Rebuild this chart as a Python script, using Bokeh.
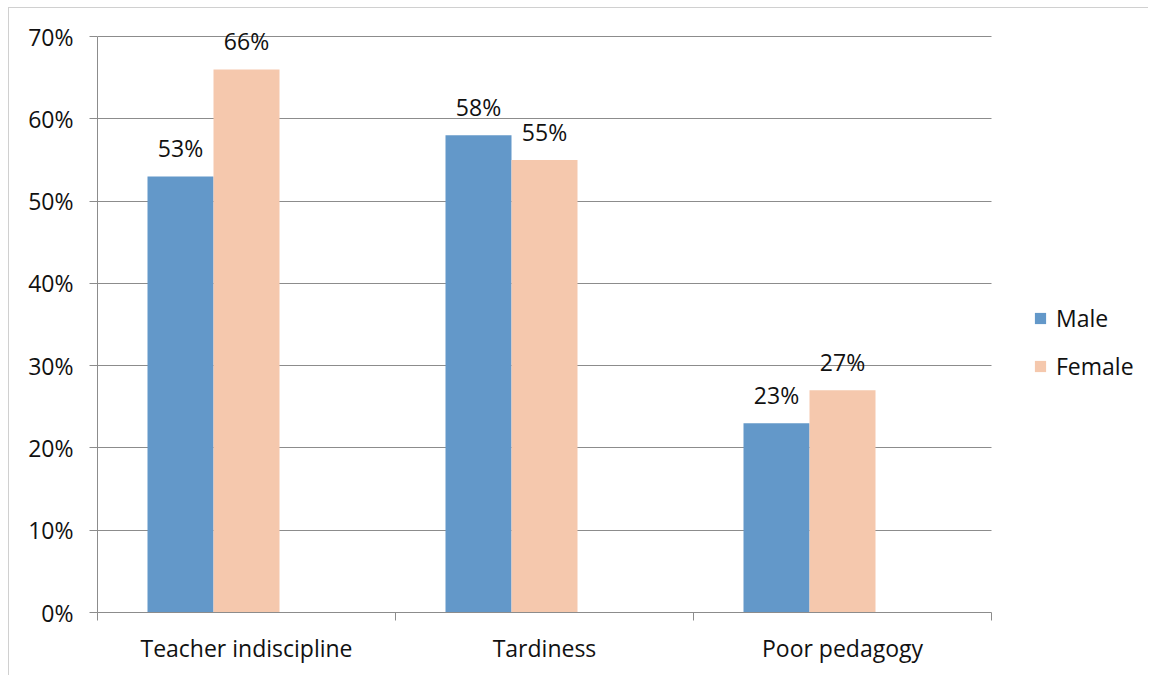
from bokeh.plotting import figure
from bokeh.models import (ColumnDataSource, FixedTicker, NumeralTickFormatter,
                          Legend, LegendItem, Range1d, LabelSet)
from bokeh.core.properties import value
from bokeh.embed import file_html
from bokeh.resources import INLINE

categories = ["Teacher indiscipline", "Tardiness", "Poor pedagogy"]
male = [0.53, 0.58, 0.23]
female = [0.66, 0.55, 0.27]
y_ticks = [0, 0.1, 0.2, 0.3, 0.4, 0.5, 0.6, 0.7]

FONT = "Open Sans"
FS = "23px"
MALE_C = "#6398C9"
FEMALE_C = "#F5C8AD"
GRID_C = "#8C8C8C"
TXT_C = "#111111"

n = len(categories)
y_max = y_ticks[-1]
bw = 66 / 298  # bar width as fraction of a category slot
centers = [i + 0.5 for i in range(n)]
male_x = [c - bw for c in centers]
female_x = [c for c in centers]

src_m = ColumnDataSource(dict(x=male_x, top=male, lab=[f"{round(v*100)}%" for v in male]))
src_f = ColumnDataSource(dict(x=female_x, top=female, lab=[f"{round(v*100)}%" for v in female]))

# frame extends past the axes (right: legend room, top: label room); axes/grid are bounded
p = figure(width=1140, height=668, output_backend="svg", toolbar_location=None,
           x_range=Range1d(0, 1043 / 298), y_range=Range1d(0, y_max * 604 / 576),
           min_border_left=88, min_border_top=0, min_border_right=9, min_border_bottom=64)
p.margin = (7, 0, 0, 8)
p.styles = {"border-left": "1px solid #d0d0d0", "border-top": "1px solid #d0d0d0"}
p.outline_line_color = None
p.background_fill_color = "white"

rm = p.vbar(x="x", top="top", width=bw, bottom=0, source=src_m, fill_color=MALE_C, line_color=None)
rf = p.vbar(x="x", top="top", width=bw, bottom=0, source=src_f, fill_color=FEMALE_C, line_color=None)

for src in (src_m, src_f):
    p.add_layout(LabelSet(x="x", y="top", text="lab", source=src, y_offset=12,
                          text_align="center", text_baseline="bottom",
                          text_font=value(FONT), text_font_size=FS, text_color=TXT_C))

p.xgrid.visible = False
p.ygrid.ticker = FixedTicker(ticks=y_ticks)
p.ygrid.grid_line_color = GRID_C
p.ygrid.grid_line_width = 1
p.ygrid.cross_bounds = (0, n)

ya = p.yaxis[0]
ya.bounds = (0, y_max)
ya.ticker = FixedTicker(ticks=y_ticks)
ya.formatter = NumeralTickFormatter(format="0%")
ya.axis_line_color = GRID_C
ya.major_tick_line_color = GRID_C
ya.major_tick_out = 8
ya.major_tick_in = 0
ya.minor_tick_line_color = None
ya.major_label_standoff = 16
ya.major_label_text_font = FONT
ya.major_label_text_font_size = FS
ya.major_label_text_color = TXT_C

xa = p.xaxis[0]
xa.bounds = (0, n)
xa.ticker = FixedTicker(ticks=centers, minor_ticks=[float(i) for i in range(n + 1)])
xa.major_label_overrides = {c: cat for c, cat in zip(centers, categories)}
xa.axis_line_color = GRID_C
xa.major_tick_line_color = None
xa.minor_tick_line_color = GRID_C
xa.minor_tick_out = 8
xa.minor_tick_in = 0
xa.major_label_standoff = 11
xa.major_label_text_font = FONT
xa.major_label_text_font_size = FS
xa.major_label_text_color = TXT_C

legend = Legend(items=[LegendItem(label="Male", renderers=[rm]),
                       LegendItem(label="Female", renderers=[rf])],
                location=(936, 230), orientation="vertical",
                glyph_width=14, glyph_height=14, label_height=20, spacing=16,
                label_standoff=9, padding=0, margin=0,
                border_line_color=None, background_fill_alpha=0,
                label_text_font=FONT, label_text_font_size=FS,
                label_text_color=TXT_C)
p.add_layout(legend, "center")

open("out.html", "w").write(file_html(p, INLINE))
